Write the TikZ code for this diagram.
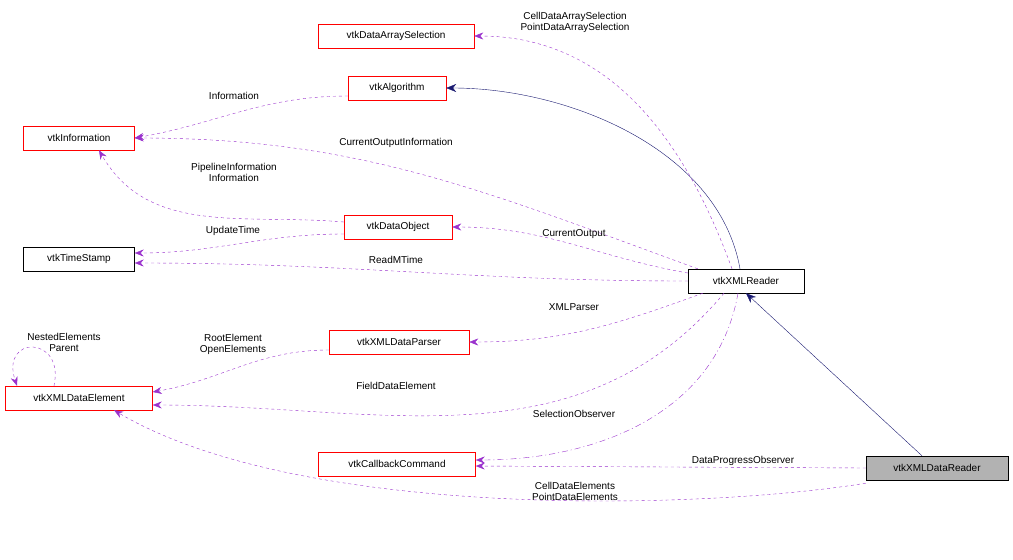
\documentclass[tikz,border=0pt]{standalone}
\usepackage{fontspec}
\setmainfont{Liberation Sans}
\usetikzlibrary{arrows.meta, positioning}
\definecolor{linkpurple}{HTML}{9A32CD}
\definecolor{basenavy}{HTML}{191970}
\tikzset{
    classbox/.style={rectangle, draw=red, fill=white, font=\fontsize{10}{11}\selectfont, inner sep=0pt, minimum height=24pt},
    plainbox/.style={classbox, draw=black},
    mainbox/.style={classbox, draw=black, fill=gray!60},
    usage/.style={draw=linkpurple, dashed, -{Stealth[length=9pt,width=7pt]}},
    inherit/.style={draw=basenavy, -{Stealth[length=10pt,width=8pt]}},
    lbl/.style={font=\fontsize{10}{11}\selectfont, align=center, inner sep=1pt}
}

\begin{document}
\begin{tikzpicture}[x=1pt, y=-1pt]
    \useasboundingbox (0,0) rectangle (1013,560);
    \node (selection) [classbox, minimum width=156pt] at (396,36) {vtkDataArraySelection};
    \node (algorithm) [classbox, minimum width=98pt] at (397,88) {vtkAlgorithm};
    \node (information) [classbox, minimum width=111pt] at (79,138) {vtkInformation};
    \node (dataobject) [classbox, minimum width=108pt] at (398,227) {vtkDataObject};
    \node (timestamp) [plainbox, minimum width=111pt] at (79,259) {vtkTimeStamp};
    \node (reader) [plainbox, minimum width=116pt] at (746,281) {vtkXMLReader};
    \node (parser) [classbox, minimum width=140pt] at (399,342) {vtkXMLDataParser};
    \node (element) [classbox, minimum width=147pt] at (79,398) {vtkXMLDataElement};
    \node (callback) [classbox, minimum width=157pt] at (397,464) {vtkCallbackCommand};
    \node (datareader) [mainbox, minimum width=142pt] at (937,468) {vtkXMLDataReader};

    \draw [inherit] (reader.north) ++(-6,0) to[out=100, in=0, looseness=0.9] (algorithm.east);
    \draw [inherit] (datareader.north) ++(-15,0) -- (reader.south);

    \draw [usage] (reader.north) ++(-14,0) to[out=110, in=0] (selection.east);
    \draw [usage] (algorithm.west) ++(0,8) to[out=180, in=10] (information.east);
    \draw [usage] (reader.north west) ++(10,0) to[out=160, in=0] (information.east);
    \draw [usage] (dataobject.west) ++(0,-5) to[out=175, in=-60] ([xshift=20pt]information.south);
    \draw [usage] (dataobject.west) ++(0,7) to[out=180, in=0] ([yshift=6pt]timestamp.east);
    \draw [usage] (reader.west) ++(0,-8) to[out=170, in=0] (dataobject.east);
    \draw [usage] (reader.west) to[out=180, in=0] ([yshift=-4pt]timestamp.east);
    \draw [usage] (reader.south west) ++(15,0) to[out=-160, in=0] (parser.east);
    \draw [usage] (parser.west) ++(0,8) to[out=180, in=10] ([yshift=6pt]element.east);
    \draw [usage] ([xshift=-25pt]element.north) .. controls (65,335) and (0,335) .. ([xshift=-62pt]element.north);
    \draw [usage] (reader.south) ++(-22,0) to[out=-130, in=0] ([yshift=-7pt]element.east);
    \draw [usage, dash pattern=on 6pt off 3pt on 1pt off 3pt] (reader.south) ++(-8,0) to[out=-100, in=0] ([yshift=4pt]callback.east);
    \draw [usage] (datareader.west) -- ([yshift=-2pt]callback.east);
    \draw [usage] (datareader.south west) ++(0,3) .. controls (700,510) and (300,520) .. ([xshift=35pt]element.south);

    \node [lbl] at (575,22) {CellDataArraySelection\\PointDataArraySelection};
    \node [lbl] at (234,96) {Information};
    \node [lbl] at (396,143) {CurrentOutputInformation};
    \node [lbl] at (234,172) {PipelineInformation\\Information};
    \node [lbl] at (233,231) {UpdateTime};
    \node [lbl] at (574,234) {CurrentOutput};
    \node [lbl] at (396,260) {ReadMTime};
    \node [lbl] at (574,307) {XMLParser};
    \node [lbl] at (233,344) {RootElement\\OpenElements};
    \node [lbl] at (64,342) {NestedElements\\Parent};
    \node [lbl] at (396,386) {FieldDataElement};
    \node [lbl] at (574,414) {SelectionObserver};
    \node [lbl] at (743,461) {DataProgressObserver};
    \node [lbl] at (575,491) {CellDataElements\\PointDataElements};
\end{tikzpicture}
\end{document}
